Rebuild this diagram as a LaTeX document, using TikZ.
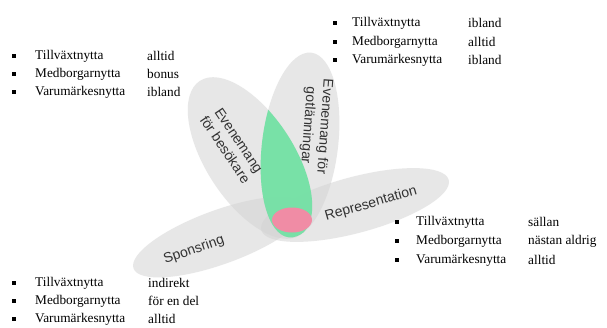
\documentclass[tikz,border=0pt]{standalone}
\usepackage{fontspec}
\setmainfont{Liberation Serif}
\newfontfamily\labelfont{Liberation Sans}
\newfontfamily\listfont{Liberation Serif}
\definecolor{petal}{RGB}{212,212,212}
\definecolor{mint}{RGB}{110,226,162}
\definecolor{rose}{RGB}{240,140,165}
\newcommand\listrow[7]{%
  \node[bul] (#1b) at (#2,#5) {};
  \node[lst] (#1t) at (#3,#5) {#6};
  \node[lst] (#1v) at (#4,#5) {#7};}
\begin{document}
\begin{tikzpicture}[x=1pt,y=-1pt,
  petalfill/.style={fill=petal, fill opacity=0.55},
  lbl/.style={font=\labelfont\fontsize{14}{16.5}\selectfont, text=black!80, align=center, inner sep=0pt},
  lst/.style={font=\listfont\fontsize{13.3}{15}\selectfont, anchor=west, inner sep=0pt},
  bul/.style={fill=black, minimum size=3.8pt, inner sep=0pt}]
\useasboundingbox[fill=white] (0,0) rectangle (607,327);
% petals
\fill[petalfill, rotate around={20:(220,237)}] (220,237) ellipse [x radius=92pt, y radius=27pt];
\fill[petalfill, rotate around={15:(355,205)}] (355,205) ellipse [x radius=97pt, y radius=28pt];
\fill[petalfill, rotate around={-57:(250,158)}] (250,158) ellipse [x radius=92pt, y radius=44pt];
\fill[petalfill, rotate around={83:(300,145)}] (300,145) ellipse [x radius=93pt, y radius=38pt];
% green intersection
\begin{scope}
  \clip[rotate around={-57:(250,158)}] (250,158) ellipse [x radius=92pt, y radius=44pt];
  \fill[mint, fill opacity=0.9, rotate around={83:(300,145)}] (300,145) ellipse [x radius=93pt, y radius=38pt];
\end{scope}
% pink core
\fill[rose] (292,220) ellipse [x radius=20pt, y radius=12.5pt];
% labels
\node[lbl, rotate=-56] (besok) at (232,145) {Evenemang\\för besökare};
\node[lbl, rotate=-94] (gotl) at (316,126) {Evenemang för\\gotlänningar};
\node[lbl, rotate=16] (repr) at (371,204) {Representation};
\node[lbl, rotate=19] (spons) at (194,250) {Sponsring};
% lists
\listrow{tla}{14}{35}{147}{56}{Tillväxtnytta}{alltid}
\listrow{tlb}{14}{35}{147}{74}{Medborgarnytta}{bonus}
\listrow{tlc}{14}{35}{147}{92}{Varumärkesnytta}{ibland}
\listrow{tra}{335}{352}{468}{23}{Tillväxtnytta}{ibland}
\listrow{trb}{335}{352}{468}{42}{Medborgarnytta}{alltid}
\listrow{trc}{335}{352}{468}{60}{Varumärkesnytta}{ibland}
\listrow{rma}{397}{416}{528}{222}{Tillväxtnytta}{sällan}
\listrow{rmb}{397}{416}{528}{241}{Medborgarnytta}{nästan aldrig}
\listrow{rmc}{397}{416}{528}{260}{Varumärkesnytta}{alltid}
\listrow{bta}{14}{35}{148}{283}{Tillväxtnytta}{indirekt}
\listrow{btb}{14}{35}{148}{301}{Medborgarnytta}{för en del}
\listrow{btc}{14}{35}{148}{319}{Varumärkesnytta}{alltid}
\end{tikzpicture}
\end{document}
